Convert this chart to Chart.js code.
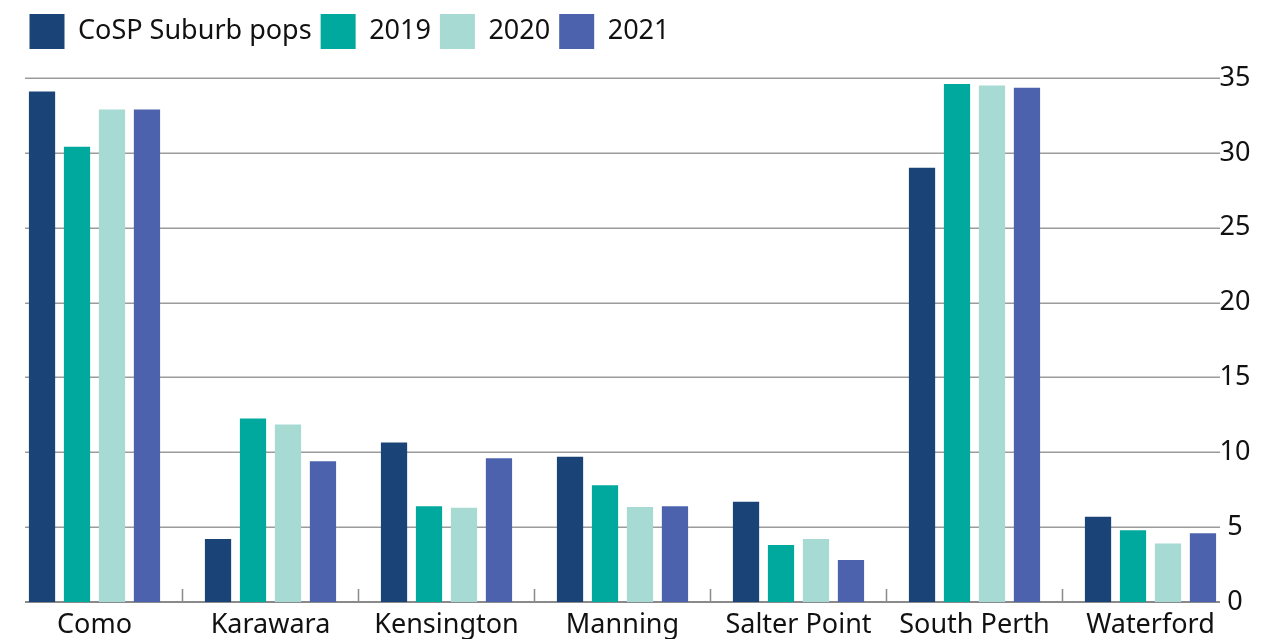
<!DOCTYPE html>
<html>
<head>
<meta charset="utf-8">
<script src="https://cdn.jsdelivr.net/npm/chart.js@4/dist/chart.umd.min.js"></script>
<style>
  html, body { margin: 0; padding: 0; background: #fff; }
  #wrap { width: 1262px; height: 639px; }
</style>
</head>
<body>
<div id="wrap"><canvas id="myChart" width="1262" height="639"></canvas></div>
<script>
// dati
const suburbs = ['Como', 'Karawara', 'Kensington', 'Manning', 'Salter Point', 'South Perth', 'Waterford'];
const cospPops = [34.1, 4.2, 10.65, 9.7, 6.7, 29.0, 5.7];
const pops2019 = [30.4, 12.25, 6.4, 7.8, 3.8, 34.6, 4.8];
const pops2020 = [32.9, 11.85, 6.3, 6.35, 4.2, 34.5, 3.9];
const pops2021 = [32.9, 9.4, 9.6, 6.4, 2.8, 34.35, 4.6];
const yTicks = [0, 5, 10, 15, 20, 25, 30, 35];

const FONT = 'Noto Sans';

// griglia disegnata a mano tra x=25 e x=1220
const gridPlugin = {
    id: 'gridPlugin',
    beforeInit(chart) {
        const fit = chart.legend.fit;
        chart.legend.fit = function () {
            fit.bind(this)();
            this.height += 20;
        };
    },
    afterLayout(chart) {
        chart.legend.left += 14;
        chart.legend.top += 1;
    },
    beforeDatasetsDraw(chart) {
        const ctx = chart.ctx;
        const y = chart.scales.y;
        const x = chart.scales.x;
        const x0 = 25, x1 = 1220;
        ctx.save();
        ctx.strokeStyle = '#9b9b9b';
        ctx.lineWidth = 1.5;
        yTicks.forEach(function (v) {
            if (v === 0) return;
            const py = Math.round(y.getPixelForValue(v)) + 0.25;
            ctx.beginPath();
            ctx.moveTo(x0, py);
            ctx.lineTo(x1, py);
            ctx.stroke();
        });
        // asse zero
        const pz = y.getPixelForValue(0);
        ctx.strokeStyle = '#8a8a8a';
        ctx.lineWidth = 2;
        ctx.beginPath();
        ctx.moveTo(x0, pz);
        ctx.lineTo(x1, pz);
        ctx.stroke();
        // tacche tra le categorie
        ctx.lineWidth = 1.5;
        for (let i = 0; i < suburbs.length - 1; i++) {
            const px = (x.getPixelForValue(i) + x.getPixelForValue(i + 1)) / 2;
            ctx.beginPath();
            ctx.moveTo(px, pz);
            ctx.lineTo(px, pz - 13);
            ctx.stroke();
        }
        ctx.restore();
    }
};

const ctx = document.getElementById('myChart').getContext('2d');
const myChart = new Chart(ctx, {
    type: 'bar',
    data: {
        labels: suburbs,
        datasets: [
            { label: 'CoSP Suburb pops', data: cospPops, backgroundColor: '#1a4477' },
            { label: '2019', data: pops2019, backgroundColor: '#00a99d' },
            { label: '2020', data: pops2020, backgroundColor: '#a6dad3' },
            { label: '2021', data: pops2021, backgroundColor: '#4c62ad' }
        ]
    },
    options: {
        responsive: false,
        animation: false,
        layout: { padding: { left: 6.5, top: 4, right: 0, bottom: 0 } },
        datasets: {
            bar: { categoryPercentage: 0.795, barPercentage: 0.75 }
        },
        plugins: {
            legend: {
                position: 'top',
                align: 'start',
                labels: {
                    boxWidth: 35,
                    boxHeight: 35,
                    padding: 9,
                    color: '#111',
                    font: { family: FONT, size: 27 }
                }
            },
            tooltip: { enabled: false }
        },
        scales: {
            x: {
                grid: { display: false, drawTicks: false },
                border: { display: false },
                ticks: {
                    color: '#111',
                    padding: 7,
                    maxRotation: 0,
                    autoSkip: false,
                    font: { family: FONT, size: 27 }
                },
                afterFit(scale) { scale.height = 37; }
            },
            y: {
                position: 'right',
                min: 0,
                max: 35,
                grid: { display: false, drawTicks: false },
                border: { display: false },
                ticks: {
                    stepSize: 5,
                    mirror: true,
                    crossAlign: 'center',
                    padding: 12,
                    color: '#111',
                    font: { family: FONT, size: 27 }
                },
                afterFit(scale) { scale.width = 23.5; }
            }
        }
    },
    plugins: [gridPlugin]
});
</script>
</body>
</html>
